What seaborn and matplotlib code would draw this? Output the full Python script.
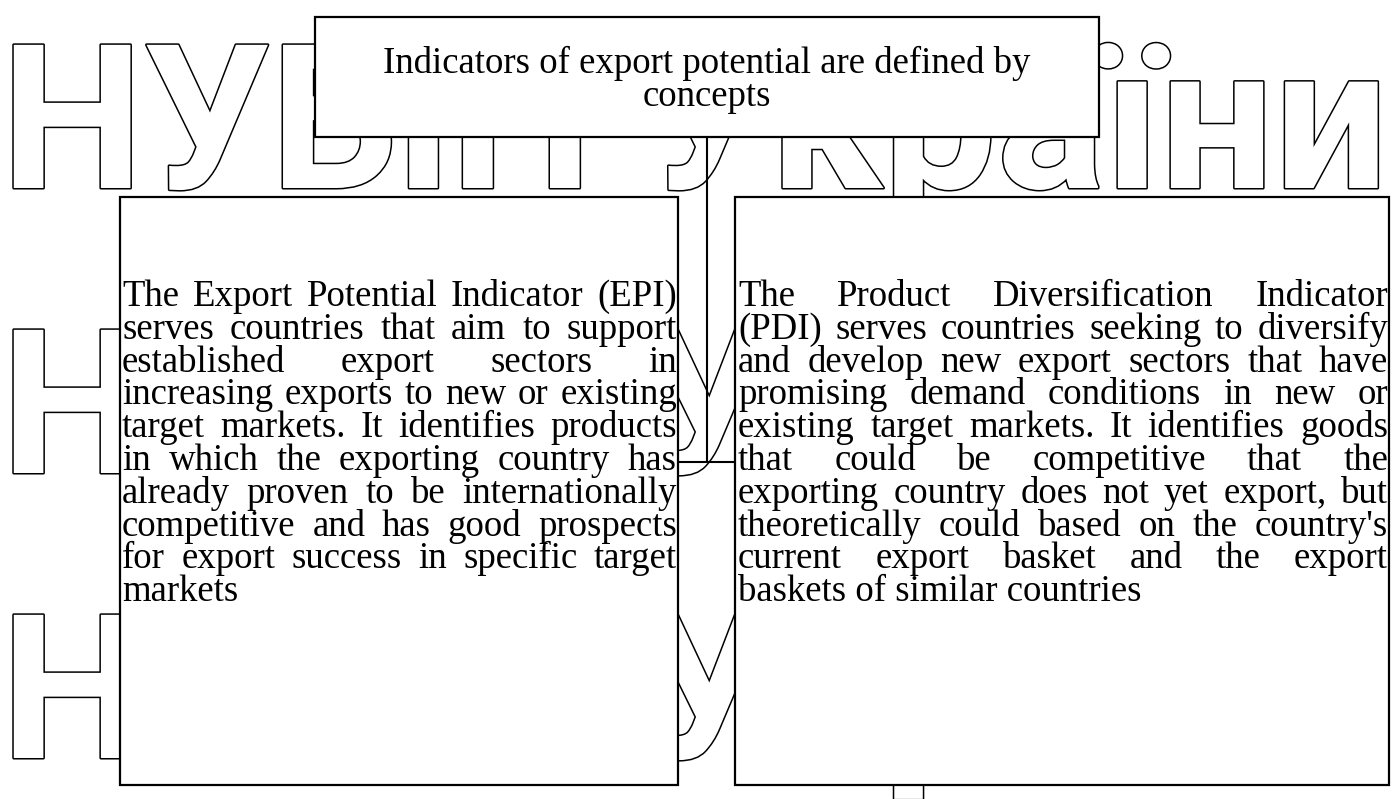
import matplotlib
matplotlib.use("Agg")
import matplotlib.pyplot as plt
import matplotlib.patheffects as pe
from matplotlib.patches import Rectangle
import seaborn as sns

# ---------------- data ----------------
title_lines = ["Indicators of export potential are defined by", "concepts"]

left_lines = [
    "The Export Potential Indicator (EPI)",
    "serves countries that aim to support",
    "established export sectors in",
    "increasing exports to new or existing",
    "target markets. It identifies products",
    "in which the exporting country has",
    "already proven to be internationally",
    "competitive and has good prospects",
    "for export success in specific target",
    "markets",
]

right_lines = [
    "The Product Diversification Indicator",
    "(PDI) serves countries seeking to diversify",
    "and develop new export sectors that have",
    "promising demand conditions in new or",
    "existing target markets. It identifies goods",
    "that could be competitive that the",
    "exporting country does not yet export, but",
    "theoretically could based on the country's",
    "current export basket and the export",
    "baskets of similar countries",
]

watermark = "НУБіП України"
watermark_rows = [188, 473, 758]   # baselines of the repeated watermark

# ---------------- figure ----------------
sns.set_theme(style="white")
plt.rcParams["font.family"] = ["Liberation Serif", "DejaVu Serif"]

W, H = 1392, 799
fig = plt.figure(figsize=(W / 100, H / 100), dpi=100)
ax = fig.add_axes([0, 0, 1, 1])
ax.set_xlim(0, W)
ax.set_ylim(H, 0)
ax.axis("off")
renderer = fig.canvas.get_renderer()

# watermark: outlined letters
for yb in watermark_rows:
    ax.text(1, yb, watermark, fontsize=145, family=["Roboto", "DejaVu Sans"], fontweight="bold",
            color="white", va="baseline", ha="left", zorder=1,
            path_effects=[pe.withStroke(linewidth=2.2, foreground="black")])

# connectors
ax.plot([707, 707], [137, 462], color="black", lw=1.5, zorder=2)
ax.plot([678, 735], [462, 462], color="black", lw=1.5, zorder=2)

# boxes
boxes = {"top": (315, 17, 784, 120), "left": (120, 197, 558, 588), "right": (735, 197, 654, 588)}
for x, y, w, h in boxes.values():
    ax.add_patch(Rectangle((x, y), w, h, facecolor="white", edgecolor="black", lw=1.6, zorder=3))

FS = 26.5

# title
for i, line in enumerate(title_lines):
    ax.text(707, 73 + i * 33, line, fontsize=FS, color="black", ha="center", va="baseline", zorder=4)


def justified(lines, x0, x1, y0, dy, size):
    for i, line in enumerate(lines):
        y = y0 + i * dy
        words = line.split()
        if i == len(lines) - 1 or len(words) == 1:
            ax.text(x0, y, line, fontsize=size, color="black", va="baseline", ha="left", zorder=4)
            continue
        texts = [ax.text(0, y, w, fontsize=size, color="black", va="baseline", ha="left", zorder=4)
                 for w in words]
        widths = [t.get_window_extent(renderer).width for t in texts]
        gap = (x1 - x0 - sum(widths)) / (len(words) - 1)
        x = x0
        for t, w in zip(texts, widths):
            t.set_x(x)
            x += w + gap


justified(left_lines, 122, 677, 306, 32.8, FS)
justified(right_lines, 738, 1388, 306, 32.8, FS)

fig.savefig("out.png", dpi=100, facecolor="white")
